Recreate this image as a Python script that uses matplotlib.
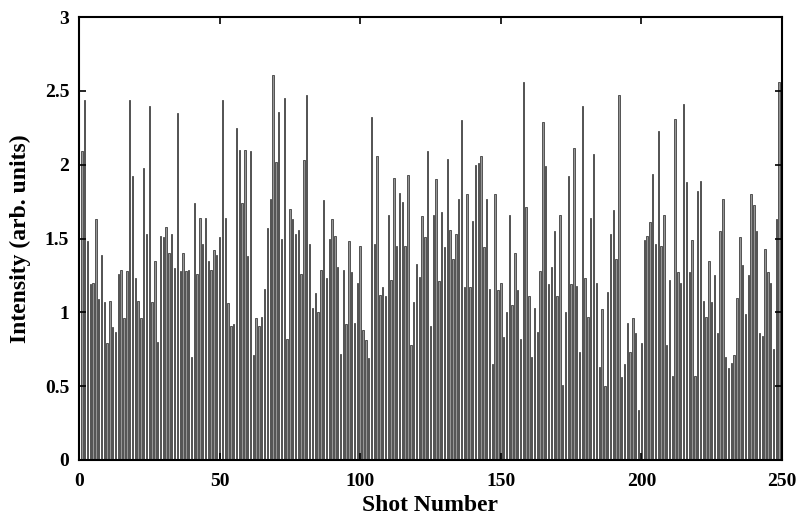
import matplotlib
matplotlib.use("Agg")
import matplotlib.pyplot as plt
import numpy as np

# intensita' per colpo
intensity = [
    2.09, 2.44, 1.48, 1.19, 1.20, 1.63, 1.09, 1.39, 1.07, 0.79,
    1.08, 0.90, 0.87, 1.26, 1.29, 0.96, 1.28, 2.44, 1.92, 1.23,
    1.08, 0.96, 1.98, 1.53, 2.40, 1.07, 1.35, 0.80, 1.52, 1.51,
    1.58, 1.40, 1.53, 1.30, 2.35, 1.28, 1.40, 1.28, 1.29, 0.70,
    1.74, 1.26, 1.64, 1.46, 1.64, 1.35, 1.29, 1.42, 1.39, 1.51,
    2.44, 1.64, 1.06, 0.91, 0.92, 2.25, 2.10, 1.74, 2.10, 1.38,
    2.09, 0.71, 0.96, 0.91, 0.97, 1.16, 1.57, 1.77, 2.61, 2.02,
    2.36, 1.50, 2.45, 0.82, 1.70, 1.63, 1.53, 1.56, 1.26, 2.03,
    2.47, 1.46, 1.03, 1.13, 1.00, 1.29, 1.76, 1.23, 1.50, 1.63,
    1.52, 1.31, 0.72, 1.29, 0.92, 1.48, 1.27, 0.93, 1.20, 1.45,
    0.88, 0.81, 0.69, 2.32, 1.46, 2.06, 1.12, 1.17, 1.11, 1.66,
    1.22, 1.91, 1.45, 1.81, 1.75, 1.45, 1.93, 0.78, 1.07, 1.33,
    1.24, 1.65, 1.51, 2.09, 0.91, 1.66, 1.90, 1.21, 1.68, 1.44,
    2.04, 1.56, 1.36, 1.53, 1.77, 2.30, 1.17, 1.80, 1.17, 1.62,
    2.00, 2.01, 2.06, 1.44, 1.77, 1.16, 0.65, 1.80, 1.15, 1.20,
    0.83, 1.00, 1.66, 1.05, 1.40, 1.15, 0.82, 2.56, 1.71, 1.11,
    0.70, 1.03, 0.87, 1.28, 2.29, 1.99, 1.19, 1.31, 1.55, 1.11,
    1.66, 0.51, 1.00, 1.92, 1.19, 2.11, 1.18, 0.73, 2.40, 1.23,
    0.97, 1.64, 2.07, 1.20, 0.63, 1.02, 0.50, 1.14, 1.53, 1.69,
    1.36, 2.47, 0.56, 0.65, 0.93, 0.73, 0.96, 0.86, 0.34, 0.79,
    1.49, 1.52, 1.61, 1.94, 1.46, 2.23, 1.45, 1.66, 0.78, 1.22,
    0.57, 2.31, 1.27, 1.20, 2.41, 1.88, 1.27, 1.49, 0.57, 1.82,
    1.89, 1.08, 0.97, 1.35, 1.07, 1.25, 0.86, 1.55, 1.77, 0.70,
    0.62, 0.66, 0.71, 1.10, 1.51, 1.32, 0.99, 1.25, 1.80, 1.73,
    1.55, 0.86, 0.84, 1.43, 1.27, 1.20, 0.75, 1.63, 2.56,
]
shots = np.arange(1, len(intensity) + 1)

xticks = [0, 50, 100, 150, 200, 250]
yticks = [0, 0.5, 1, 1.5, 2, 2.5, 3]
ytick_labels = ['0', '0.5', '1', '1.5', '2', '2.5', '3']

plt.rcParams['font.family'] = ['Liberation Serif', 'DejaVu Serif']
plt.rcParams['font.weight'] = 'bold'

f1 = plt.figure(figsize=(8.01, 5.17), dpi=100)
ax1 = f1.add_axes([79/801, 1 - 460/517, (782 - 79)/801, (460 - 17)/517])

ax1.bar(shots, intensity, width=0.5, color='#969696',
    edgecolor='#111111', linewidth=0.45)

ax1.set_xlim(0, 250)
ax1.set_ylim(0, 3)
ax1.set_xticks(xticks)
ax1.set_yticks(yticks)
ax1.set_yticklabels(ytick_labels)
ax1.tick_params(direction='in', length=5, width=1.2, top=True, right=True,
    labelsize=14, pad=9)
ax1.tick_params(axis='y', pad=7)
for lab in ax1.get_xticklabels() + ax1.get_yticklabels():
    lab.set_fontweight('bold')
for sp in ax1.spines.values():
    sp.set_linewidth(1.5)

ax1.set_xlabel('Shot Number', fontsize=17, fontweight='bold', labelpad=4)
ax1.set_ylabel('Intensity (arb. units)', fontsize=17, fontweight='bold',
    labelpad=10)

f1.savefig('out.png', dpi=100)
